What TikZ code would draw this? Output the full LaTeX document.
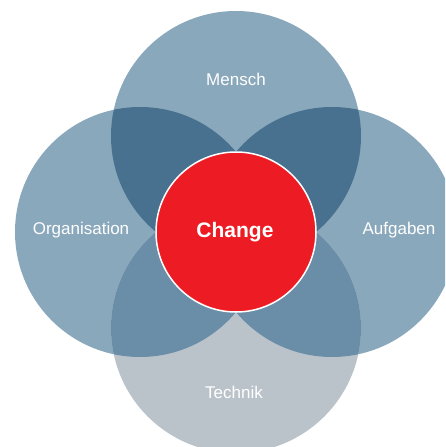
\documentclass[tikz,border=0pt]{standalone}
\usepackage{fontspec}
\setmainfont{Liberation Sans}
\definecolor{lightblue}{HTML}{8AA8BC}
\definecolor{darkblue}{HTML}{48718F}
\definecolor{midblue}{HTML}{6B8EA8}
\definecolor{lightgray}{HTML}{BBC3CA}
\definecolor{changered}{HTML}{ED1C24}
\begin{document}
\begin{tikzpicture}[x=1pt,y=-1pt,
  lbl/.style={text=white,font=\fontsize{17}{19}\selectfont}]
\useasboundingbox (0,0) rectangle (445,447);
\begin{scope}
\clip (0,0) rectangle (445,447);
% base circles
\fill[lightblue] (140,232) circle (125);
\fill[lightblue] (332,232) circle (125);
\fill[lightblue] (236,136) circle (125);
\fill[lightgray] (236,328) circle (125);
% top overlaps
\begin{scope}
  \clip (236,136) circle (125);
  \fill[darkblue] (140,232) circle (125);
  \fill[darkblue] (332,232) circle (125);
\end{scope}
% bottom overlaps
\begin{scope}
  \clip (236,328) circle (125);
  \fill[midblue] (140,232) circle (125);
  \fill[midblue] (332,232) circle (125);
\end{scope}
\end{scope}
\node[circle,fill=changered,draw=white,line width=1.5pt,minimum size=160pt,inner sep=0pt] (change) at (236,232) {};
\node[text=white,font=\bfseries\fontsize{21}{24}\selectfont] (changelbl) at (235,232) {Change};
\node[lbl] (mensch) at (236,79) {Mensch};
\node[lbl] (org) at (81,230) {Organisation};
\node[lbl] (aufg) at (399,230) {Aufgaben};
\node[lbl] (technik) at (234,392) {Technik};
\end{tikzpicture}
\end{document}
